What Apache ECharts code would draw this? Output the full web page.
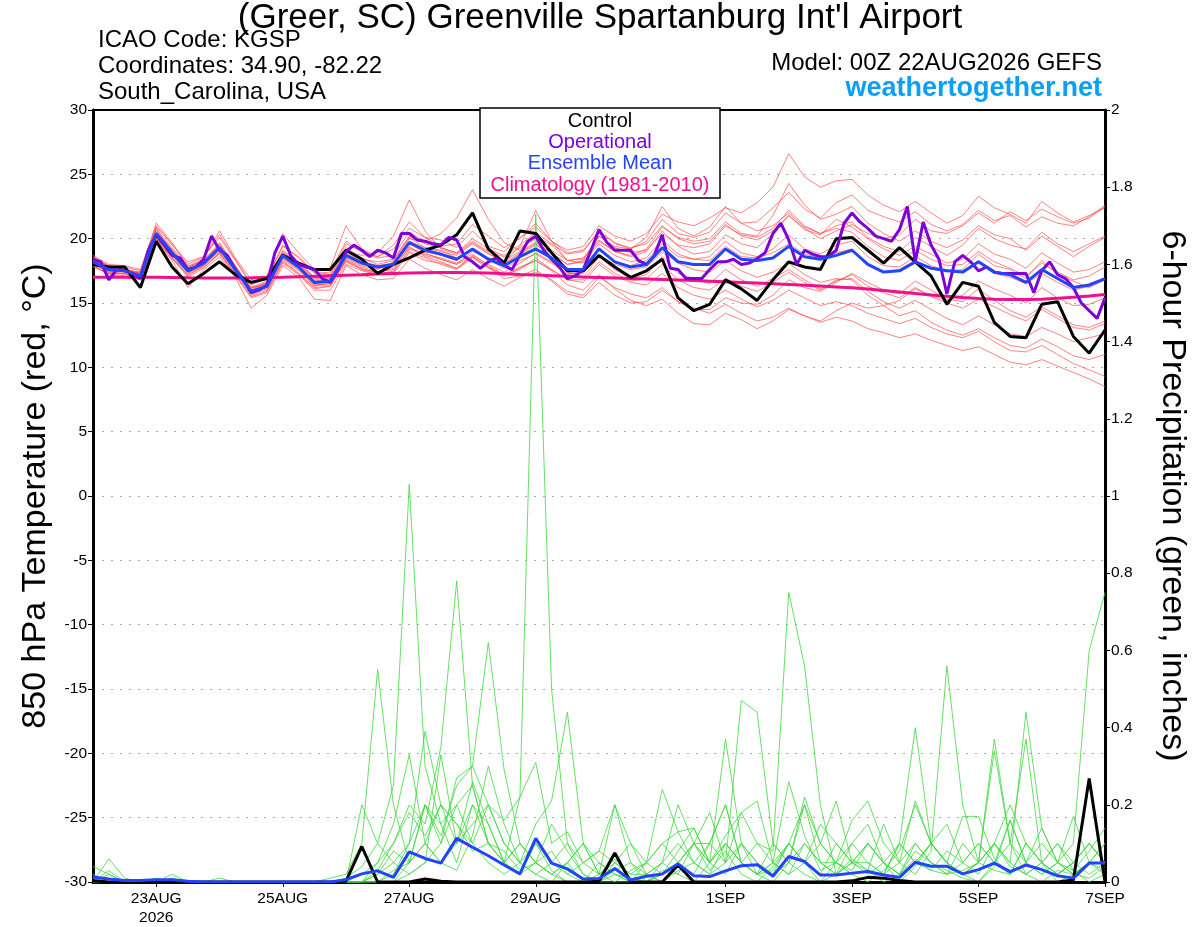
<!DOCTYPE html>
<html>
<head>
<meta charset="utf-8">
<script src="https://cdn.jsdelivr.net/npm/echarts@6/dist/echarts.min.js"></script>
<style>
  html, body { margin: 0; padding: 0; background: #fff; }
  #chart { width: 1200px; height: 927px; }
</style>
</head>
<body>
<div id="chart"></div>
<script>
// 6-hourly steps from 00Z 22AUG2026 (index 0) to 00Z 7SEP (index 64)
const dayTicks = [4, 12, 20, 28, 40, 48, 56, 64]
const dayLabels = ['23AUG\n2026', '25AUG', '27AUG', '29AUG', '1SEP', '3SEP', '5SEP', '7SEP']

// 850 hPa temperature (C)
const control = [18.0, 17.8, 17.8, 16.2, 19.8, 17.8, 16.5, 17.3, 18.2, 17.2, 16.6, 16.9, 18.7, 18.1, 17.6, 17.6, 19.1, 18.4, 17.3, 18.0, 18.5, 19.1, 19.5, 20.3, 22.0, 19.2, 18.1, 20.6, 20.4, 18.9, 17.5, 17.5, 18.7, 17.8, 17.0, 17.5, 18.4, 15.4, 14.4, 14.9, 16.8, 16.1, 15.2, 16.8, 18.2, 17.8, 17.6, 20.0, 20.1, 19.1, 18.1, 19.3, 18.2, 17.1, 14.9, 16.6, 16.3, 13.5, 12.4, 12.3, 14.9, 15.1, 12.4, 11.1, 12.9]
const ensMean = [18.2, 17.6, 17.5, 17.1, 20.4, 18.9, 17.5, 18.1, 19.3, 17.6, 15.9, 16.3, 18.7, 17.8, 16.6, 16.7, 18.7, 18.1, 17.8, 18.0, 19.7, 19.1, 18.8, 18.4, 19.2, 18.4, 17.9, 18.6, 19.2, 18.5, 17.6, 17.6, 19.2, 18.2, 17.8, 18.0, 19.3, 18.2, 18.0, 18.0, 19.2, 18.4, 18.3, 18.5, 19.4, 18.6, 18.4, 18.7, 19.1, 18.0, 17.4, 17.5, 18.2, 17.7, 17.5, 17.4, 18.2, 17.4, 17.2, 16.6, 17.6, 16.9, 16.2, 16.4, 16.9]
const climatology = [17.0, 17.0, 17.0, 17.0, 17.0, 16.98, 16.96, 16.95, 16.95, 16.95, 16.96, 16.98, 17.0, 17.04, 17.08, 17.12, 17.16, 17.2, 17.25, 17.3, 17.33, 17.36, 17.38, 17.38, 17.36, 17.33, 17.28, 17.22, 17.17, 17.12, 17.07, 17.02, 16.98, 16.94, 16.9, 16.86, 16.82, 16.78, 16.74, 16.7, 16.65, 16.6, 16.55, 16.5, 16.44, 16.38, 16.32, 16.25, 16.18, 16.08, 15.98, 15.86, 15.74, 15.63, 15.52, 15.42, 15.35, 15.3, 15.28, 15.28, 15.3, 15.36, 15.44, 15.54, 15.66]
// operational run is 3-hourly
const operational = [18.4, 18.2, 16.8, 17.6, 17.5, 17.3, 16.9, 19.1, 20.3, 19.5, 18.7, 18.5, 17.6, 17.8, 18.4, 20.2, 19.1, 18.7, 17.6, 16.8, 15.8, 16.0, 16.4, 18.9, 20.2, 18.7, 18.0, 17.8, 17.6, 16.9, 16.6, 17.6, 19.0, 19.5, 19.1, 18.6, 19.1, 18.9, 18.5, 20.4, 20.4, 19.9, 19.8,
  19.6, 19.5, 20.1, 19.9, 18.6, 18.2, 17.7, 18.2, 18.5, 17.9, 17.6, 18.7, 19.8, 20.2, 19.1, 18.4, 17.8, 16.9, 17.1, 17.6, 19.1, 20.7, 19.7, 19.1, 19.1, 19.1, 18.3, 18.0, 18.7, 20.3, 17.7, 17.6, 16.9, 16.9, 16.9, 17.6, 18.2, 18.2, 18.4, 18.0, 18.1, 18.45,
  18.9, 20.4, 21.2, 19.9, 18.0, 19.1, 18.8, 18.6, 18.6, 19.1, 21.2, 22.0, 21.3, 20.8, 20.2, 20.0, 19.8, 20.7, 22.5, 18.2, 21.3, 19.5, 18.4, 15.7, 18.2, 18.7, 18.2, 17.5, 17.8, 17.4, 17.3, 17.3, 17.3, 17.3, 15.8, 17.5, 18.2, 17.2, 16.9, 16.2, 15.0, 14.4, 13.8, 15.4]

const member01 = [18.5, 17.9, 17.6, 17.4, 20.9, 19.5, 18.2, 18.6, 20.1, 18.3, 16.4, 16.9, 19.4, 18.6, 17.4, 17.2, 19.6, 19.0, 18.6, 19.2, 20.8, 20.1, 19.9, 19.3, 20.6, 19.4, 19.0, 20.1, 20.9, 19.8, 19.1, 19.4, 21.0, 20.2, 19.8, 20.4, 21.9, 21.3, 21.0, 21.6, 22.4, 22.0, 22.8, 24.0, 26.6, 24.8, 24.0, 24.5, 24.6, 23.4, 22.6, 22.1, 22.9, 22.0, 21.2, 21.8, 23.3, 22.4, 21.9, 21.2, 22.9, 22.0, 21.3, 21.8, 22.4]
const member02 = [17.9, 17.2, 17.0, 16.8, 19.8, 18.3, 16.2, 17.6, 18.6, 17.0, 14.6, 15.6, 17.9, 17.0, 15.3, 15.2, 17.9, 17.2, 16.8, 16.9, 18.4, 17.7, 17.2, 16.8, 17.6, 16.9, 16.3, 17.0, 17.4, 16.8, 15.9, 15.6, 17.0, 16.2, 15.7, 15.4, 16.2, 15.1, 14.6, 14.2, 14.9, 14.2, 13.6, 13.9, 14.6, 14.0, 13.5, 13.9, 13.6, 13.0, 12.7, 12.3, 12.6, 12.1, 11.7, 11.3, 11.6, 11.0, 10.4, 10.2, 10.6, 10.1, 9.6, 9.1, 8.5]
const member03 = [18.0, 17.4, 17.3, 17.0, 20.0, 18.6, 17.1, 17.9, 18.9, 17.3, 15.6, 16.0, 18.3, 17.3, 16.2, 16.3, 18.2, 17.6, 17.2, 17.5, 19.0, 18.5, 18.0, 17.6, 18.5, 17.7, 17.1, 17.7, 18.3, 17.6, 16.8, 16.6, 18.0, 17.1, 16.6, 16.4, 17.3, 16.2, 15.6, 15.3, 16.0, 15.3, 14.7, 15.2, 16.0, 15.4, 14.8, 15.1, 14.8, 14.2, 13.8, 13.4, 13.8, 13.1, 12.6, 12.3, 12.8, 12.0, 11.3, 11.2, 11.7, 11.0, 10.3, 9.8, 9.3]
const member04 = [18.6, 17.8, 17.8, 17.5, 21.2, 19.7, 17.8, 18.5, 20.6, 18.5, 16.8, 17.1, 20.4, 18.9, 17.6, 17.7, 21.0, 19.2, 18.6, 19.5, 21.3, 20.1, 19.4, 19.6, 21.1, 20.2, 19.3, 20.0, 21.2, 19.8, 18.9, 19.1, 20.6, 19.7, 19.2, 19.8, 21.5, 20.4, 20.1, 20.5, 22.0, 21.2, 21.3, 22.4, 23.6, 22.3, 21.6, 22.8, 23.4, 22.2, 21.7, 21.3, 22.1, 21.1, 20.6, 21.1, 22.2, 21.4, 21.8, 20.9, 21.7, 21.2, 21.0, 21.7, 22.6]
const member05 = [18.3, 17.5, 17.4, 17.2, 20.6, 19.1, 17.6, 18.0, 19.5, 17.9, 16.0, 16.6, 18.9, 18.2, 17.0, 16.9, 19.0, 18.7, 18.9, 20.2, 23.0, 20.6, 19.2, 18.8, 19.7, 18.9, 18.1, 18.9, 19.6, 18.6, 17.4, 17.0, 18.6, 17.6, 16.9, 17.2, 18.6, 17.3, 16.9, 16.5, 17.6, 16.8, 16.3, 16.9, 17.6, 16.8, 16.1, 16.7, 17.2, 16.3, 15.8, 15.4, 16.2, 15.5, 15.0, 14.6, 15.3, 14.7, 14.1, 13.6, 14.5, 13.8, 13.1, 12.9, 13.4]
const member06 = [18.1, 17.7, 17.6, 17.3, 20.3, 18.9, 17.4, 18.3, 19.1, 17.4, 15.8, 16.1, 18.5, 17.6, 16.4, 16.5, 18.5, 17.9, 17.6, 18.2, 20.0, 19.8, 20.4, 21.6, 23.8, 21.5, 19.7, 19.1, 20.2, 19.5, 18.3, 18.5, 19.9, 19.0, 18.6, 19.0, 20.6, 19.4, 18.8, 19.0, 20.3, 19.6, 19.3, 20.4, 21.8, 20.7, 20.3, 21.5, 20.9, 20.0, 19.2, 18.7, 19.4, 18.8, 18.1, 18.4, 19.6, 18.8, 18.4, 17.7, 18.9, 18.1, 17.4, 17.6, 18.2]
const member07 = [17.8, 17.3, 17.1, 16.9, 19.9, 18.4, 17.2, 17.8, 18.8, 17.1, 15.5, 15.9, 18.2, 17.3, 16.1, 16.3, 18.3, 17.7, 17.3, 17.4, 19.2, 18.7, 18.4, 18.0, 19.0, 18.5, 18.2, 19.4, 22.2, 19.8, 18.3, 18.1, 19.6, 18.7, 18.2, 18.5, 19.9, 18.8, 18.4, 18.6, 19.8, 18.9, 18.6, 19.2, 20.3, 19.2, 18.8, 19.5, 19.8, 18.6, 17.9, 17.8, 18.6, 17.9, 17.5, 17.6, 18.8, 17.9, 17.6, 16.9, 18.3, 17.2, 16.7, 16.2, 16.8]
const member08 = [18.4, 17.6, 17.7, 17.0, 20.2, 18.8, 17.3, 17.9, 19.2, 17.8, 16.2, 16.4, 18.6, 17.7, 16.4, 16.4, 18.4, 17.8, 17.4, 17.6, 19.4, 18.6, 18.2, 17.7, 18.6, 17.8, 17.2, 17.6, 18.5, 17.6, 16.8, 16.8, 18.2, 17.3, 16.7, 16.9, 18.0, 16.8, 16.2, 16.0, 16.9, 16.3, 15.9, 16.6, 17.4, 16.6, 16.0, 16.8, 16.9, 15.9, 15.1, 14.6, 15.2, 14.5, 13.8, 13.3, 14.0, 13.3, 12.6, 12.4, 13.1, 12.6, 12.0, 12.3, 12.6]
const member09 = [18.0, 17.5, 17.2, 17.1, 20.5, 19.2, 17.7, 18.3, 19.7, 17.9, 16.1, 16.6, 19.1, 18.1, 16.9, 17.0, 19.1, 18.4, 18.2, 18.4, 20.2, 19.6, 19.3, 18.9, 19.8, 19.0, 18.6, 19.3, 20.0, 19.1, 18.3, 18.4, 20.2, 19.3, 18.9, 19.1, 20.4, 19.5, 19.3, 19.6, 21.0, 20.3, 20.1, 20.8, 22.2, 21.0, 20.4, 21.0, 21.3, 20.1, 19.4, 19.0, 20.1, 19.4, 18.7, 19.5, 20.8, 20.0, 19.5, 19.2, 20.5, 19.6, 19.0, 19.6, 20.2]
const member10 = [18.2, 17.7, 17.5, 17.2, 20.1, 18.6, 17.3, 18.0, 19.0, 17.5, 15.8, 16.2, 18.4, 17.5, 16.3, 16.6, 18.3, 17.6, 17.4, 17.7, 19.3, 18.8, 18.5, 18.1, 18.8, 17.9, 17.2, 17.8, 18.3, 17.5, 16.4, 16.0, 17.2, 16.1, 15.2, 14.8, 15.3, 14.2, 13.4, 13.3, 14.2, 13.7, 13.0, 13.6, 14.5, 14.0, 13.6, 14.4, 15.0, 14.6, 14.8, 15.2, 16.1, 15.6, 15.2, 15.6, 16.7, 16.1, 15.6, 15.0, 16.2, 15.4, 14.8, 14.9, 15.4]
const member11 = [18.4, 17.9, 17.6, 17.3, 20.7, 19.3, 17.9, 18.2, 19.6, 17.8, 16.2, 16.7, 19.0, 18.0, 17.0, 17.1, 19.3, 18.5, 18.0, 18.3, 20.1, 19.3, 19.0, 18.7, 19.6, 18.8, 18.3, 19.0, 19.7, 18.9, 18.0, 18.2, 19.8, 19.0, 18.7, 19.2, 20.9, 20.1, 19.8, 20.0, 21.3, 20.4, 20.2, 21.8, 24.3, 22.6, 21.5, 21.9, 22.5, 21.2, 20.4, 19.8, 20.6, 19.8, 19.3, 19.9, 21.0, 20.3, 20.0, 19.1, 20.2, 19.4, 18.6, 19.4, 20.1]
const member12 = [17.9, 17.3, 17.3, 16.8, 19.9, 18.5, 17.0, 17.7, 18.9, 17.2, 15.4, 15.8, 18.1, 17.2, 16.0, 16.0, 18.0, 17.5, 17.2, 17.3, 18.9, 18.3, 18.1, 17.7, 18.7, 18.0, 17.4, 18.1, 18.9, 18.2, 17.3, 17.3, 18.7, 18.0, 17.6, 17.8, 19.0, 18.1, 17.6, 17.4, 18.3, 17.5, 17.0, 17.4, 18.1, 17.2, 16.6, 16.9, 16.8, 15.6, 14.8, 14.0, 14.4, 13.5, 12.9, 12.5, 13.0, 12.3, 11.7, 11.5, 12.2, 11.6, 10.9, 10.6, 11.0]
const member13 = [18.3, 17.4, 17.5, 17.3, 20.3, 18.7, 17.5, 18.2, 19.2, 17.6, 16.0, 16.4, 18.6, 17.9, 16.7, 16.8, 18.8, 18.2, 17.9, 18.1, 19.8, 19.3, 19.1, 18.5, 19.2, 18.4, 17.7, 18.3, 18.8, 18.1, 17.2, 17.4, 19.1, 18.2, 17.9, 18.3, 19.6, 18.6, 18.4, 18.3, 19.4, 18.6, 18.5, 18.9, 19.6, 18.8, 18.5, 18.9, 19.2, 18.0, 17.4, 17.6, 18.3, 17.7, 17.6, 17.4, 18.2, 17.3, 17.0, 16.5, 17.3, 16.6, 16.0, 16.3, 16.9]
const member14 = [18.6, 17.8, 17.4, 17.4, 20.8, 19.0, 17.7, 18.4, 19.4, 17.8, 16.2, 16.5, 18.9, 18.0, 16.8, 16.8, 18.9, 18.2, 17.9, 18.0, 19.6, 19.0, 18.7, 18.3, 19.2, 18.5, 18.0, 18.8, 19.5, 18.9, 18.0, 18.3, 20.2, 19.4, 19.2, 20.1, 22.5, 20.8, 20.2, 20.9, 22.5, 21.2, 20.6, 21.0, 22.0, 20.9, 20.4, 20.8, 20.5, 19.4, 18.6, 18.3, 19.1, 18.4, 17.9, 18.0, 19.0, 18.2, 17.7, 17.1, 18.1, 17.4, 16.8, 17.1, 17.8]
const member15 = [18.1, 17.6, 17.6, 17.2, 20.0, 18.8, 17.4, 18.0, 19.1, 17.7, 15.9, 16.4, 18.5, 17.7, 16.5, 16.6, 18.6, 18.0, 17.7, 17.9, 19.6, 18.9, 18.4, 18.0, 18.6, 17.8, 16.9, 17.1, 17.6, 16.7, 15.7, 15.4, 16.6, 15.6, 15.0, 15.1, 16.0, 15.1, 14.5, 14.5, 15.4, 15.0, 14.9, 15.6, 16.8, 16.2, 15.9, 16.6, 17.3, 16.6, 16.0, 15.7, 16.7, 16.0, 15.3, 15.1, 16.1, 15.2, 14.4, 13.9, 14.7, 14.0, 13.3, 13.1, 13.6]
const member16 = [18.7, 18.0, 17.9, 17.6, 21.0, 19.6, 18.0, 18.6, 20.3, 18.4, 16.5, 16.9, 19.5, 18.5, 17.3, 17.4, 19.8, 19.0, 18.5, 18.7, 20.5, 19.8, 19.3, 18.9, 20.0, 19.2, 18.7, 19.5, 20.5, 19.6, 18.8, 19.0, 20.6, 19.6, 19.3, 19.6, 21.0, 20.0, 19.6, 19.8, 21.1, 20.2, 19.9, 20.6, 21.8, 20.8, 20.0, 20.6, 21.1, 20.4, 20.0, 20.3, 21.5, 20.6, 20.4, 21.0, 22.0, 21.2, 22.1, 21.4, 22.3, 21.7, 21.2, 21.6, 22.5]
const tempMembers = [member01, member02, member03, member04, member05, member06, member07, member08, member09, member10, member11, member12, member13, member14, member15, member16]

// 6-hour precipitation (inches)
const controlPrecip = [0.003, 0, 0, 0, 0, 0, 0, 0, 0, 0, 0, 0, 0, 0, 0, 0, 0.002, 0.092, 0, 0, 0, 0.008, 0.002, 0, 0, 0, 0, 0, 0, 0, 0, 0, 0.002, 0.075, 0, 0, 0, 0.044, 0, 0, 0, 0, 0, 0, 0, 0, 0, 0, 0.003, 0.012, 0.01, 0.004, 0, 0, 0, 0, 0, 0, 0, 0, 0, 0, 0.005, 0.268, 0]
const meanPrecip = [0.013, 0.008, 0.004, 0.004, 0.006, 0.006, 0.002, 0, 0, 0, 0, 0, 0, 0, 0, 0, 0.006, 0.021, 0.029, 0.012, 0.078, 0.061, 0.049, 0.113, 0.09, 0.068, 0.044, 0.021, 0.113, 0.049, 0.034, 0.008, 0.009, 0.035, 0.005, 0.015, 0.021, 0.047, 0.016, 0.014, 0.029, 0.042, 0.045, 0.015, 0.066, 0.053, 0.018, 0.018, 0.023, 0.027, 0.018, 0.012, 0.051, 0.041, 0.041, 0.021, 0.032, 0.049, 0.027, 0.044, 0.032, 0.016, 0.01, 0.049, 0.049]
const precip01 = [0.04, 0.02, 0, 0, 0, 0, 0, 0, 0, 0, 0, 0, 0, 0, 0, 0, 0, 0.02, 0.05, 0.1, 0.18, 0.12, 0.2, 0.15, 0.08, 0.1, 0.05, 0.22, 1.73, 0.5, 0.1, 0.02, 0, 0.03, 0.05, 0.02, 0, 0.05, 0.1, 0.03, 0.08, 0.02, 0, 0.04, 0.1, 0.05, 0, 0.02, 0.06, 0.03, 0, 0.02, 0.08, 0.05, 0.03, 0.01, 0, 0.05, 0.1, 0.02, 0, 0.03, 0.02, 0.01, 0.04]
const precip02 = [0, 0.06, 0.01, 0, 0, 0.01, 0, 0, 0, 0, 0, 0, 0, 0, 0, 0, 0.01, 0.04, 0.1, 0.25, 1.03, 0.3, 0.15, 0.2, 0.1, 0.05, 0.02, 0.05, 0.1, 0.03, 0, 0, 0.02, 0.06, 0.01, 0, 0.03, 0.02, 0, 0.05, 0.12, 0.18, 0.1, 0.05, 0.26, 0.12, 0.03, 0.05, 0.02, 0, 0.03, 0.08, 0.2, 0.1, 0.05, 0.02, 0, 0.04, 0.16, 0.05, 0.02, 0.05, 0.03, 0.08, 0.14]
const precip03 = [0.02, 0, 0, 0, 0.01, 0, 0, 0, 0.01, 0, 0, 0, 0, 0, 0, 0, 0, 0, 0.03, 0.1, 0.2, 0.15, 0.35, 0.78, 0.25, 0.1, 0.08, 0.03, 0.05, 0.15, 0.08, 0.02, 0, 0, 0, 0, 0.02, 0.08, 0.14, 0.05, 0.37, 0.1, 0.02, 0, 0.05, 0.2, 0.1, 0.05, 0.03, 0.1, 0.05, 0, 0.04, 0.1, 0.05, 0.17, 0.17, 0.06, 0.02, 0.1, 0.05, 0, 0.02, 0.05, 0.03]
const precip04 = [0, 0.03, 0, 0, 0, 0.02, 0, 0, 0, 0, 0, 0, 0, 0, 0, 0.01, 0.02, 0.1, 0.55, 0.2, 0.05, 0.1, 0.05, 0.03, 0.12, 0.3, 0.15, 0.05, 0.02, 0, 0.05, 0.1, 0.02, 0, 0.03, 0.05, 0.24, 0.13, 0.05, 0.02, 0.05, 0.47, 0.44, 0.1, 0.05, 0.02, 0, 0.05, 0.1, 0.15, 0.05, 0.02, 0.06, 0.03, 0.08, 0.05, 0.02, 0.1, 0.04, 0.02, 0.05, 0.1, 0.03, 0, 0.02]
const precip05 = [0, 0, 0, 0, 0, 0, 0, 0, 0, 0, 0, 0, 0, 0, 0, 0, 0, 0, 0.02, 0.08, 0.05, 0.2, 0.12, 0.25, 0.3, 0.62, 0.29, 0.1, 0.05, 0.08, 0.02, 0, 0.05, 0.02, 0, 0.02, 0.05, 0.2, 0.1, 0.05, 0.1, 0.05, 0.02, 0.03, 0.1, 0.2, 0.05, 0.05, 0.02, 0.03, 0.15, 0.05, 0.02, 0.08, 0.56, 0.2, 0.05, 0.03, 0.02, 0.05, 0.1, 0.05, 0.02, 0.05, 0.1]
const precip06 = [0, 0.01, 0, 0, 0, 0, 0, 0, 0, 0, 0, 0, 0, 0, 0, 0, 0, 0, 0, 0.02, 0.1, 0.39, 0.2, 0.1, 0.15, 0.2, 0.1, 0.05, 0.15, 0.21, 0.44, 0.1, 0.02, 0.2, 0.05, 0, 0.02, 0.05, 0.1, 0.18, 0.05, 0.18, 0.21, 0.05, 0.02, 0.05, 0.1, 0.21, 0.05, 0.02, 0.05, 0.1, 0.4, 0.1, 0.05, 0.02, 0.05, 0.37, 0.1, 0.05, 0.02, 0.05, 0.1, 0.6, 0.75]
const precip07 = [0, 0, 0, 0, 0, 0, 0, 0, 0, 0, 0, 0, 0, 0, 0, 0, 0, 0, 0, 0, 0.02, 0.05, 0.33, 0.1, 0.26, 0.15, 0.05, 0.02, 0.05, 0.02, 0, 0, 0, 0.05, 0.02, 0.02, 0, 0.03, 0.05, 0.1, 0.2, 0.05, 0.1, 0.08, 0.75, 0.56, 0.2, 0.02, 0.05, 0.05, 0.02, 0.1, 0.05, 0.03, 0.02, 0.1, 0.05, 0.34, 0.1, 0.37, 0.05, 0.02, 0.05, 0.1, 0.05]
const precip08 = [0, 0, 0, 0, 0, 0, 0, 0, 0, 0, 0, 0, 0, 0, 0, 0, 0, 0, 0, 0, 0.05, 0.2, 0.1, 0.27, 0.3, 0.2, 0.16, 0.22, 0.31, 0.1, 0.13, 0.05, 0.08, 0.2, 0.1, 0.05, 0.1, 0.13, 0.14, 0.05, 0.1, 0.05, 0.02, 0.1, 0.05, 0.22, 0.1, 0.05, 0.16, 0.21, 0.1, 0.05, 0.21, 0.1, 0.15, 0.05, 0.1, 0.05, 0.16, 0.05, 0.14, 0.05, 0.17, 0.05, 0.02]
const precip09 = [0, 0.02, 0, 0, 0, 0, 0, 0, 0, 0, 0, 0, 0, 0, 0, 0, 0, 0, 0.05, 0.15, 0.33, 0.1, 0.05, 0.1, 0.2, 0.15, 0.05, 0.1, 0.05, 0.02, 0.05, 0, 0, 0.02, 0.01, 0, 0.05, 0.02, 0.1, 0.1, 0.2, 0.05, 0.02, 0.05, 0.1, 0.05, 0.02, 0.1, 0.05, 0.03, 0.02, 0.05, 0.1, 0.05, 0.02, 0.03, 0.05, 0.1, 0.05, 0.44, 0.14, 0.05, 0.02, 0.05, 0.1]
const precip10 = [0.01, 0, 0, 0, 0, 0, 0, 0, 0, 0, 0, 0, 0, 0, 0, 0, 0, 0.2, 0.1, 0.05, 0.1, 0.2, 0.15, 0.05, 0.2, 0.1, 0.05, 0.02, 0.1, 0.05, 0.02, 0.05, 0.08, 0.05, 0.02, 0.05, 0.1, 0.05, 0.02, 0.1, 0.05, 0.1, 0.05, 0.02, 0.1, 0.05, 0.15, 0.1, 0.05, 0.1, 0.05, 0.02, 0.1, 0.05, 0.02, 0.05, 0.1, 0.05, 0.02, 0.1, 0.05, 0.02, 0.05, 0.1, 0.05]
const precip11 = [0, 0, 0, 0, 0, 0, 0, 0, 0, 0, 0, 0, 0, 0, 0, 0, 0, 0, 0, 0.03, 0.05, 0.1, 0.2, 0.15, 0.1, 0.2, 0.1, 0.05, 0.02, 0.05, 0.1, 0.05, 0.02, 0.05, 0.1, 0.02, 0.05, 0.1, 0.05, 0.02, 0.1, 0.05, 0.02, 0.05, 0.02, 0.1, 0.05, 0.02, 0.1, 0.05, 0.02, 0.1, 0.05, 0.1, 0.05, 0.02, 0.05, 0.1, 0.05, 0.02, 0.05, 0.1, 0.05, 0.02, 0.05]
const precip12 = [0, 0, 0, 0, 0, 0, 0, 0, 0, 0, 0, 0, 0, 0, 0, 0, 0, 0, 0.02, 0.05, 0.02, 0.05, 0.1, 0.2, 0.25, 0.1, 0.05, 0.1, 0.05, 0.02, 0.05, 0.1, 0.05, 0.02, 0, 0.05, 0.02, 0.05, 0.1, 0.05, 0.02, 0.1, 0.05, 0.02, 0.05, 0.1, 0.05, 0.02, 0.05, 0.1, 0.05, 0.02, 0.05, 0.1, 0.05, 0.02, 0.05, 0.1, 0.2, 0.1, 0.05, 0.02, 0.05, 0.1, 0.05]
const precipMembers = [precip01, precip02, precip03, precip04, precip05, precip06, precip07, precip08, precip09, precip10, precip11, precip12]

const font = 'Liberation Sans, Arial, sans-serif'

function line(values, color, width, axis, step, z) {
  return {
    type: 'line',
    yAxisIndex: axis,
    data: values.map((v, i) => [i * step, v]),
    symbol: 'none',
    silent: true,
    z: z,
    lineStyle: { color: color, width: width }
  }
}

const series = []
tempMembers.forEach(m => series.push(line(m, 'rgba(255,70,70,0.85)', 0.8, 0, 1, 2)))
precipMembers.forEach(m => series.push(line(m, '#3cd83c', 0.8, 1, 1, 3)))
series.push(line(climatology, '#f0108c', 3, 0, 1, 4))
series.push(line(control, '#000000', 3, 0, 1, 5))
series.push(line(operational, '#7d00d8', 3, 0, 0.5, 6))
series.push(line(ensMean, '#2244ff', 3, 0, 1, 7))
series.push(line(controlPrecip, '#000000', 3, 1, 1, 5))
series.push(line(meanPrecip, '#2244ff', 3, 1, 1, 7))

function txt(text, x, y, size, color, align, weight) {
  return {
    type: 'text', x: x, y: y, z: 100,
    style: {
      text: text, fill: color, textAlign: align, textVerticalAlign: 'middle',
      font: (weight || 'normal') + ' ' + size + 'px ' + font
    }
  }
}

const option = {
  animation: false,
  textStyle: { fontFamily: font },
  grid: { left: 93, right: 95, top: 110, bottom: 44, show: true, borderColor: '#000', borderWidth: 2 },
  xAxis: {
    type: 'value', min: 0, max: 64,
    axisLine: { onZero: false, lineStyle: { color: '#000', width: 3 } },
    axisTick: { customValues: dayTicks, length: 5, lineStyle: { color: '#000' } },
    axisLabel: {
      customValues: dayTicks,
      formatter: v => dayLabels[dayTicks.indexOf(v)] || '',
      color: '#000', fontSize: 15.5, margin: 7, lineHeight: 19
    },
    splitLine: { show: false }
  },
  yAxis: [
    {
      type: 'value', min: -30, max: 30, interval: 5,
      name: '850 hPa Temperature (red, °C)', nameLocation: 'middle', nameGap: 40,
      nameTextStyle: { fontSize: 34, color: '#000' },
      axisLine: { show: true, onZero: false, lineStyle: { color: '#000', width: 3 } },
      axisTick: { show: true, length: 5, lineStyle: { color: '#000' } },
      axisLabel: { color: '#000', fontSize: 15.5, margin: 6 },
      splitLine: { show: true, showMinLine: false, showMaxLine: false, lineStyle: { color: '#aaa', type: [2, 7], width: 1 } }
    },
    {
      type: 'value', min: 0, max: 2, interval: 0.2, position: 'right',
      name: '6-hour Precipitation (green, inches)', nameLocation: 'middle', nameGap: 50, nameRotate: -90,
      nameTextStyle: { fontSize: 34, color: '#000' },
      axisLine: { show: true, onZero: false, lineStyle: { color: '#000', width: 3 } },
      axisTick: { show: true, length: 5, lineStyle: { color: '#000' } },
      axisLabel: { color: '#000', fontSize: 15.5, margin: 6 },
      splitLine: { show: false }
    }
  ],
  graphic: [
    txt("(Greer, SC) Greenville Spartanburg Int'l Airport", 600, 18, 35, '#000', 'center'),
    txt('ICAO Code: KGSP', 98, 40, 24, '#000', 'left'),
    txt('Coordinates: 34.90, -82.22', 98, 66, 24, '#000', 'left'),
    txt('South_Carolina, USA', 98, 92, 24, '#000', 'left'),
    txt('Model: 00Z 22AUG2026 GEFS', 1102, 63, 24, '#000', 'right'),
    txt('weathertogether.net', 1102, 89, 27, '#0aa0f8', 'right', 'bold'),
    {
      type: 'rect', z: 99,
      shape: { x: 480, y: 108, width: 240, height: 90 },
      style: { fill: '#fff', stroke: '#000', lineWidth: 1.5 }
    },
    txt('Control', 600, 121, 20, '#000', 'center'),
    txt('Operational', 600, 142, 20, '#7d00d8', 'center'),
    txt('Ensemble Mean', 600, 163, 20, '#2244ff', 'center'),
    txt('Climatology (1981-2010)', 600, 185, 20, '#f0108c', 'center')
  ],
  series: series
}

const chart = echarts.init(document.getElementById('chart'))
chart.setOption(option)
</script>
</body>
</html>
